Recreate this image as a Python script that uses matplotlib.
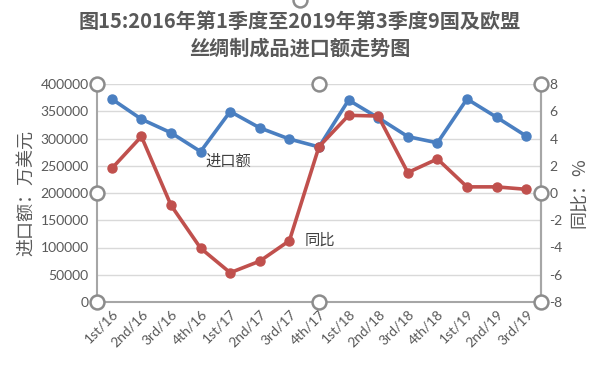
import numpy as np
import matplotlib.pyplot as plt
from matplotlib.lines import Line2D

plt.rcParams['font.family'] = ['Noto Sans CJK SC', 'DejaVu Sans']

# Data
quarters = ["1st/16", "2nd/16", "3rd/16", "4th/16", "1st/17", "2nd/17", "3rd/17", "4th/17",
            "1st/18", "2nd/18", "3rd/18", "4th/18", "1st/19", "2nd/19", "3rd/19"]
imports = [372500, 335500, 310500, 276000, 349500, 319500, 299000, 284500,
           370500, 338000, 303500, 292000, 372500, 339000, 304500]
yoy = [1.8, 4.15, -0.9, -4.05, -5.85, -5.0, -3.5, 3.4,
       5.7, 5.65, 1.5, 2.5, 0.45, 0.45, 0.27]
left_ticks = [0, 50000, 100000, 150000, 200000, 250000, 300000, 350000, 400000]
right_ticks = [-8, -6, -4, -2, 0, 2, 4, 6, 8]

blue = "#4a7fc1"
red = "#c0504d"
gray_txt = "#595959"
axis_gray = "#a6a6a6"

fig = plt.figure(figsize=(6, 3.67), dpi=100)
ax = fig.add_axes([97 / 600, 1 - 302 / 367, 444 / 600, 218 / 367])
ax2 = ax.twinx()

x = np.arange(len(quarters))
ax.plot(x, imports, color=blue, lw=2.6, marker="o", ms=6.5, zorder=3)
ax2.plot(x, yoy, color=red, lw=2.6, marker="o", ms=6.5, zorder=3)

ax.set_xlim(-0.5, len(quarters) - 0.5)
ax.set_ylim(0, 400000)
ax2.set_ylim(-8, 8)
ax.set_yticks(left_ticks)
ax.set_yticklabels([str(v) for v in left_ticks])
ax2.set_yticks(right_ticks)
ax2.set_yticklabels([str(v) for v in right_ticks])
ax.set_xticks(x)
ax.set_xticklabels(quarters, rotation=45, ha="right", rotation_mode="anchor")

ax.grid(axis="y", color="#d9d9d9", lw=1)
ax.set_axisbelow(True)
for a in (ax, ax2):
    a.spines["top"].set_visible(False)
    a.spines["left"].set_color(axis_gray)
    a.spines["right"].set_color(axis_gray)
    a.spines["bottom"].set_color(axis_gray)
    for s in ("left", "right", "bottom"):
        a.spines[s].set_linewidth(1.5)
    a.tick_params(length=0, colors=gray_txt, labelsize=10, pad=6)
    for lab in a.get_yticklabels() + a.get_xticklabels():
        lab.set_family(["Lato", "DejaVu Sans"])
ax.tick_params(axis="x", pad=4)
ax2.spines["left"].set_visible(False)
ax2.spines["bottom"].set_visible(False)

ax.set_ylabel("进口额：万美元", color=gray_txt, fontsize=13, labelpad=4)
ax2.set_ylabel("同比：%", color=gray_txt, fontsize=13, rotation=90, labelpad=6)

# series labels
ax.text(3.15, 259000, "进口额", color="#404040", fontsize=11, va="center")
ax.text(6.5, 114000, "同比", color="#404040", fontsize=11, va="center")

# title
fig.text(0.5, 1 - 22 / 367, "图15:2016年第1季度至2019年第3季度9国及欧盟", ha="center", va="center",
         fontsize=14.5, fontweight="bold", color=gray_txt)
fig.text(0.5, 1 - 48 / 367, "丝绸制成品进口额走势图", ha="center", va="center",
         fontsize=14.5, fontweight="bold", color=gray_txt)

# selection handles
handles = [(0, 1), (0.5, 1), (1, 1), (0, 0.5), (1, 0.5), (0, 0), (0.5, 0), (1, 0)]
for hx, hy in handles:
    ax2.add_line(Line2D([hx], [hy], transform=ax2.transAxes, marker="o", ms=10,
                        mfc="white", mec="#8c8c8c", mew=1.8, clip_on=False, zorder=10))
fig.add_artist(Line2D([0.5], [1.0], transform=fig.transFigure, marker="o", ms=10,
                      mfc="white", mec="#8c8c8c", mew=1.8, clip_on=False))

fig.savefig("out.png", dpi=100)
